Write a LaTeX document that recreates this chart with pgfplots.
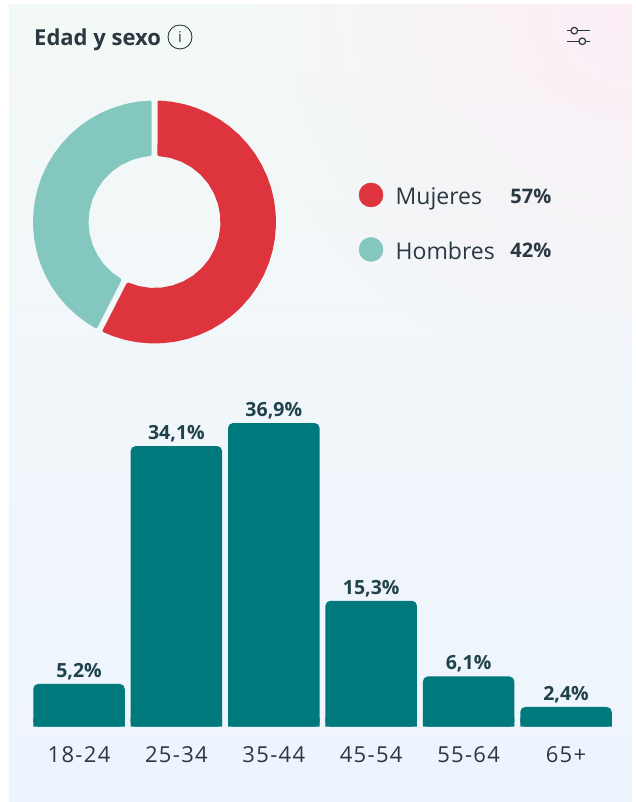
\documentclass[border=0pt]{standalone}
\usepackage{fontspec}
\setmainfont{Open Sans}
\usepackage{pgfplots}
\pgfplotsset{compat=1.18}
\usetikzlibrary{fadings}
\definecolor{ink}{RGB}{42,56,66}
\definecolor{labelink}{RGB}{32,66,74}
\definecolor{barteal}{RGB}{0,121,125}
\definecolor{mujeres}{RGB}{222,52,61}
\definecolor{hombres}{RGB}{132,199,190}
\definecolor{cardtop}{RGB}{243,249,245}
\definecolor{cardmid}{RGB}{241,246,251}
\definecolor{cardbot}{RGB}{238,244,253}
\definecolor{cardpink}{RGB}{252,238,247}
\tikzfading[name=cornerfade, inner color=transparent!0, outer color=transparent!100]
\newcommand{\fs}[1]{\fontsize{#1}{#1}\selectfont}

\begin{document}
\begin{tikzpicture}
  \path[use as bounding box] (0pt,0pt) rectangle (635pt,802pt);
  % card background
  \shade[top color=cardtop, bottom color=cardbot, middle color=cardmid]
    (9pt,0pt) rectangle (632pt,797pt);
  \begin{scope}
    \clip (9pt,0pt) rectangle (632pt,797pt);
    \fill[cardpink, path fading=cornerfade] (632pt,797pt) circle (380pt);
  \end{scope}

  % donut and legend: axis units are pixels, origin at the donut centre
  \begin{axis}[
      at={(0pt,0pt)}, anchor=south west,
      x=1pt, y=1pt,
      xmin=-154.5, xmax=480.5, ymin=-580, ymax=222,
      hide axis, clip=false,
    ]
    \addplot[fill=mujeres, draw=mujeres, line width=3pt, line join=round, data cs=polar]
      coordinates {
        (87.85,120) (82,120) (76,120) (70,120) (64,120) (58,120) (52,120) (46,120)
        (40,120) (34,120) (28,120) (22,120) (16,120) (10,120) (4,120) (-2,120)
        (-8,120) (-14,120) (-20,120) (-26,120) (-32,120) (-38,120) (-44,120) (-50,120)
        (-56,120) (-62,120) (-68,120) (-74,120) (-80,120) (-86,120) (-92,120) (-98,120)
        (-104,120) (-110,120) (-114.85,120)
        (-113.18,67.5) (-104,67.5) (-94,67.5) (-84,67.5) (-74,67.5) (-64,67.5) (-54,67.5)
        (-44,67.5) (-34,67.5) (-24,67.5) (-14,67.5) (-4,67.5) (6,67.5) (16,67.5)
        (26,67.5) (36,67.5) (46,67.5) (56,67.5) (66,67.5) (76,67.5) (86.18,67.5)
      } -- cycle;
    \addplot[fill=hombres, draw=hombres, line width=3pt, line join=round, data cs=polar]
      coordinates {
        (92.15,120) (98,120) (104,120) (110,120) (116,120) (122,120) (128,120) (134,120)
        (140,120) (146,120) (152,120) (158,120) (164,120) (170,120) (176,120) (182,120)
        (188,120) (194,120) (200,120) (206,120) (212,120) (218,120) (224,120) (230,120)
        (236,120) (240.85,120)
        (239.18,67.5) (230,67.5) (220,67.5) (210,67.5) (200,67.5) (190,67.5) (180,67.5)
        (170,67.5) (160,67.5) (150,67.5) (140,67.5) (130,67.5) (120,67.5) (110,67.5)
        (100,67.5) (93.82,67.5)
      } -- cycle;
    % legend
    \addplot[only marks, mark=*, mark size=12pt, mark options={draw=mujeres, fill=mujeres, line width=0.5pt}]
      coordinates {(216.5,27)};
    \addplot[only marks, mark=*, mark size=12pt, mark options={draw=hombres, fill=hombres, line width=0.5pt}]
      coordinates {(216.5,-27.5)};
    \node[anchor=base west, text=ink, font=\fs{23}, inner sep=0pt] at (axis cs:241,17) {Mujeres};
    \node[anchor=base west, text=ink, font=\fs{23}, inner sep=0pt] at (axis cs:241,-37.5) {Hombres};
    \node[anchor=base east, text=ink, font=\fs{20}\bfseries, inner sep=0pt] at (axis cs:397,18.5) {57\%};
    \node[anchor=base east, text=ink, font=\fs{20}\bfseries, inner sep=0pt] at (axis cs:397,-36) {42\%};
    % title
    \node[anchor=base west, text=ink, font=\fs{22}\bfseries, inner sep=0pt] at (axis cs:-120.5,176) {Edad y sexo};
    % info icon
    \draw[ink, line width=0.9pt] (axis cs:25.5,185) circle (12pt);
    \node[text=ink, font=\fs{15}, inner sep=0pt] at (axis cs:25.5,185) {i};
    % filter icon
    \draw[ink, line width=1.3pt] (axis cs:412.5,191.3) -- (axis cs:416,191.3)
      (axis cs:423.5,191.3) -- (axis cs:435.5,191.3)
      (axis cs:412.5,180.7) -- (axis cs:424,180.7)
      (axis cs:431.5,180.7) -- (axis cs:435.5,180.7);
    \draw[ink, line width=1.2pt] (axis cs:419.8,191.3) circle (3.3pt)
      (axis cs:427.8,180.7) circle (3.3pt);
  \end{axis}

  % age bars
  \begin{axis}[
      at={(30.3pt,75.3pt)}, anchor=south west,
      x=97.4pt, y=8.23pt,
      xmin=-0.5, xmax=5.5, ymin=0, ymax=40,
      axis y line=none, axis x line*=bottom,
      x axis line style={draw=none},
      ytick=\empty,
      xtick={0,1,2,3,4,5},
      xticklabels={18-24,25-34,35-44,45-54,55-64,65+},
      major tick length=0pt,
      x tick label style={font=\fs{22}\addfontfeature{LetterSpace=6}, text=ink, yshift=-16pt},
      ybar, bar width=91.5pt, bar shift=0pt,
      clip=false,
    ]
    \addplot[fill=barteal, draw=none, rounded corners=5pt,
        nodes near coords={\pgfmathprintnumber[fixed, fixed zerofill, precision=1, use comma, assume math mode=true]{\pgfplotspointmeta}\%},
        every node near coord/.append style={font=\fs{19.5}\bfseries, text=labelink, inner sep=0pt, yshift=4pt, anchor=south},
      ]
      coordinates {(0,5.2) (1,34.1) (2,36.9) (3,15.3) (4,6.1) (5,2.4)};
    % square off the bar feet, only the tops are rounded
    \addplot[fill=barteal, draw=none]
      coordinates {(0,1) (1,1) (2,1) (3,1) (4,1) (5,1)};
  \end{axis}
\end{tikzpicture}
\end{document}
